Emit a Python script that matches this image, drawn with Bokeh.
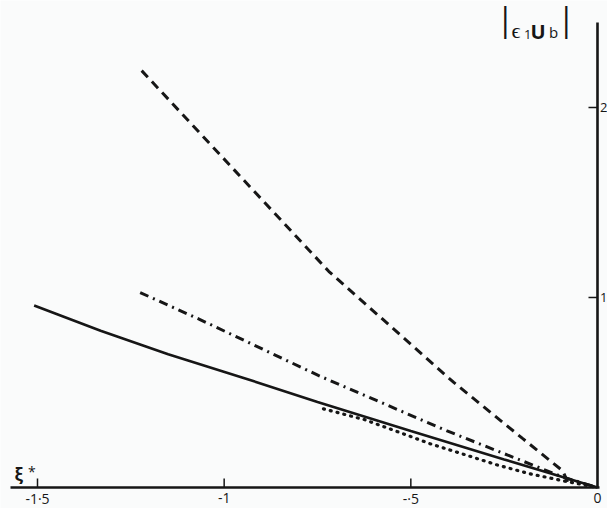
from bokeh.plotting import figure
from bokeh.models import Range1d, Label
from bokeh.core.properties import value
from bokeh.embed import file_html
from bokeh.resources import INLINE

# ---- data ----
solid_x = [-1.509, -1.331, -1.15, -0.95, -0.75, -0.5, -0.25, 0.0]
solid_y = [0.958, 0.825, 0.701, 0.578, 0.450, 0.297, 0.148, 0.0]

dashdot_x = [-1.225, -1.066, -0.748, -0.403, -0.093, 0.0]
dashdot_y = [1.026, 0.885, 0.590, 0.298, 0.055, 0.0]

dashed_x = [-1.221, -0.97, -0.72, -0.55, -0.385, -0.2, -0.093, -0.08]
dashed_y = [2.194, 1.665, 1.138, 0.841, 0.553, 0.257, 0.087, 0.030]

dotted_x = [-0.734, -0.624, -0.536, -0.448, -0.359, -0.271, -0.183, -0.094, 0.0]
dotted_y = [0.414, 0.357, 0.294, 0.230, 0.175, 0.120, 0.073, 0.036, 0.0]

x_ticks = [-1.5, -1.0, -0.5, 0.0]
x_tick_labels = ["-1·5", "-1", "-·5", "0"]
y_ticks = [1, 2]
y_tick_labels = ["1", "2"]

INK = "#161616"
FONT = "Open Sans"

W, H = 607, 508
X0, X1 = -1.5991, 0.0268      # the whole canvas is the plotting frame
Y0, Y1 = -0.1105, 2.563
PX = W / (X1 - X0)            # pixels per x unit
PY = H / (Y1 - Y0)            # pixels per y unit

p = figure(width=W, height=H, x_range=Range1d(X0, X1), y_range=Range1d(Y0, Y1),
           x_axis_type=None, y_axis_type=None,
           output_backend="svg", toolbar_location=None)
p.min_border = 0
p.min_border_left = p.min_border_right = p.min_border_top = p.min_border_bottom = 0
p.outline_line_color = None
p.background_fill_color = "#fafbfb"
p.border_fill_color = "#fafbfb"
p.xgrid.visible = False
p.ygrid.visible = False

# ---- axes: ξ* axis along y = 0, |ϵ1Ub| axis along ξ* = 0 ----
p.segment(x0=[X0 + 10 / PX], y0=[0], x1=[2 / PX], y1=[0], line_color=INK, line_width=2.6)
p.segment(x0=[0], y0=[0], x1=[0], y1=[Y1 - 22 / PY], line_color=INK, line_width=2.6)
xt = [t for t in x_ticks if t != 0]
p.segment(x0=xt, y0=[0] * len(xt), x1=xt, y1=[9 / PY] * len(xt),
          line_color=INK, line_width=1.5)
p.segment(x0=[0] * len(y_ticks), y0=y_ticks, x1=[-9 / PX] * len(y_ticks), y1=y_ticks,
          line_color=INK, line_width=1.5)

p.text(x=x_ticks, y=[-10.5 / PY] * len(x_ticks), text=x_tick_labels,
       text_font=value(FONT), text_font_size="14px", text_color=INK,
       text_align="center", text_baseline="middle")
p.text(x=[2.5 / PX] * len(y_ticks), y=y_ticks, text=y_tick_labels,
       text_font=value(FONT), text_font_size="13px", text_color=INK,
       text_align="left", text_baseline="middle")

# ---- curves ----
p.line(solid_x, solid_y, line_color=INK, line_width=2.6)
p.line(dashdot_x, dashdot_y, line_color=INK, line_width=3, line_dash="9 5 2 5")
p.line(dashed_x, dashed_y, line_color=INK, line_width=3, line_dash="9 6")
p.line(dotted_x, dotted_y, line_color=INK, line_width=3.2, line_dash="1 6",
       line_cap="round")


# ---- axis titles ----
def lab(x, y, text, size, bold=False, align="left"):
    p.add_layout(Label(x=x, y=y, text=text, text_font=FONT, text_font_size=size,
                       text_font_style="bold" if bold else "normal",
                       text_color=INK, text_baseline="middle", text_align=align))


# |ϵ1 U b|
lab(-0.2705, 2.466, "|", "32px")
lab(-0.2304, 2.4105, "ϵ", "22px")
lab(-0.1969, 2.386, "1", "13px")
lab(-0.1795, 2.401, "U", "20px", bold=True)
lab(-0.1299, 2.397, "b", "15px")
lab(-0.1071, 2.466, "|", "32px")

# ξ*
lab(-1.5616, 0.071, "ξ", "17px", bold=True)
lab(-1.5255, 0.0847, "*", "14px")

open("out.html", "w").write(file_html(p, INLINE))
